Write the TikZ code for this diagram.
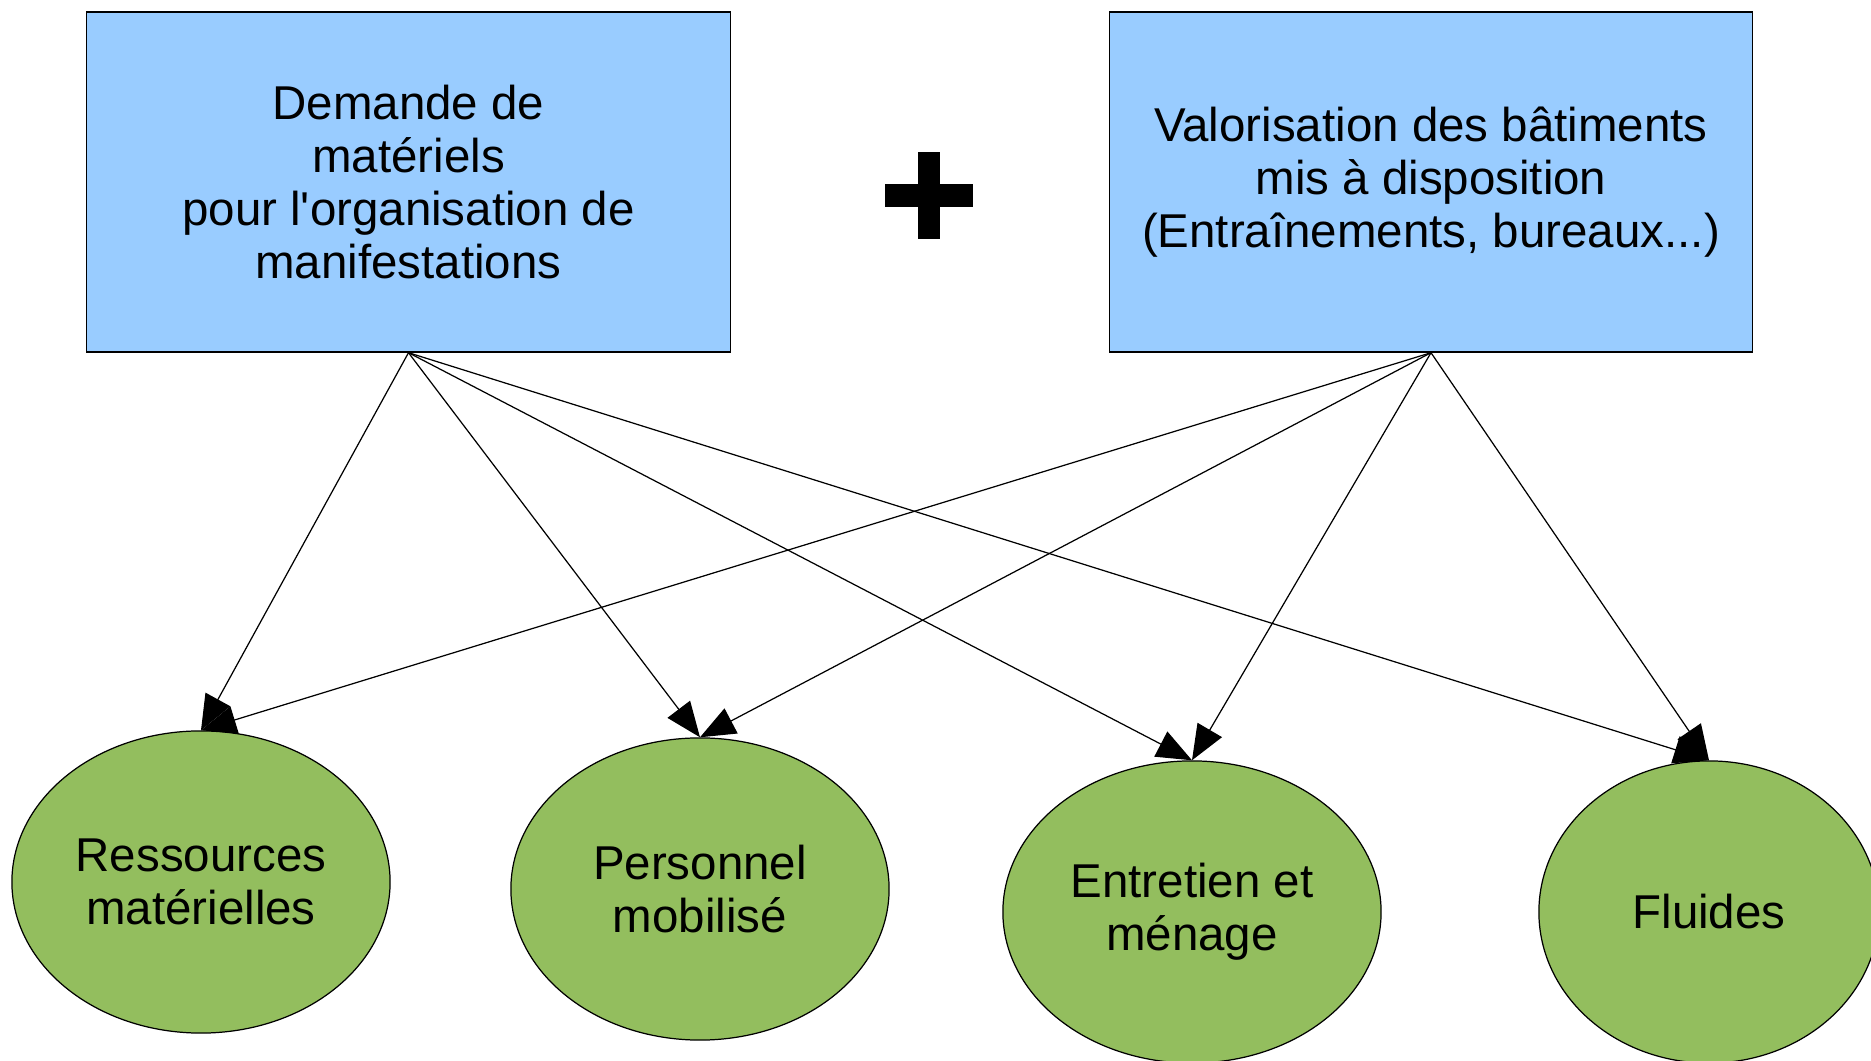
\documentclass[tikz,border=0pt]{standalone}
\usepackage{fontspec}
\setmainfont{Liberation Sans}
\usepackage{xcolor}
\usetikzlibrary{shapes.geometric}
\usetikzlibrary{arrows.meta}

\definecolor{boxblue}{HTML}{99CCFF}
\definecolor{blobgreen}{HTML}{93BE5E}

\begin{document}
\begin{tikzpicture}[x=0.01cm, y=-0.01cm,
    box/.style={draw, fill=boxblue, line width=0.35pt, minimum width=6.43cm,
      minimum height=3.40cm, inner sep=0pt, align=center,
      font=\fontsize{13.5pt}{15.1pt}\selectfont},
    blob/.style={ellipse, draw, fill=blobgreen, line width=0.35pt,
      minimum width=3.78cm, minimum height=3.02cm, inner sep=0pt, align=center,
      font=\fontsize{13.5pt}{15.1pt}\selectfont},
    link/.style={line width=0.35pt, -{Triangle[length=10pt,width=8pt]}}]
      % Fix the page to the size of the slide
      \useasboundingbox (0,0) rectangle (1871,1061);
      \clip (0,0) rectangle (1871,1061);

      % The two source boxes
      \node[box] (demande) at (408.5,182) {Demande de\\ matériels\\ pour l\textquotesingle organisation de\\ manifestations};
      \node[box] (batiments) at (1431,182) {Valorisation des bâtiments\\ mis à disposition\\ (Entraînements, bureaux...)};

      % The plus sign between them
      \fill (885,184) rectangle (973,207);
      \fill (918,152) rectangle (940,239);

      % The four cost items
      \node[blob] (ressources) at (201,882) {Ressources\\ matérielles};
      \node[blob] (personnel) at (700,889) {Personnel\\ mobilisé};
      \node[blob] (entretien) at (1192,912) {Entretien et\\ ménage};
      \node[blob, minimum width=3.40cm] (fluides) at (1709,912) {Fluides};

      % Arrows from the boxes to the items
      \draw[link] (demande.south) -- (ressources.north);
      \draw[link] (demande.south) -- (personnel.north);
      \draw[link] (demande.south) -- (entretien.north);
      \draw[link] (demande.south) -- (fluides.north);
      \draw[link] (batiments.south) -- (ressources.north);
      \draw[link] (batiments.south) -- (personnel.north);
      \draw[link] (batiments.south) -- (entretien.north);
      \draw[link] (batiments.south) -- (fluides.north);
    \end{tikzpicture}
\end{document}
